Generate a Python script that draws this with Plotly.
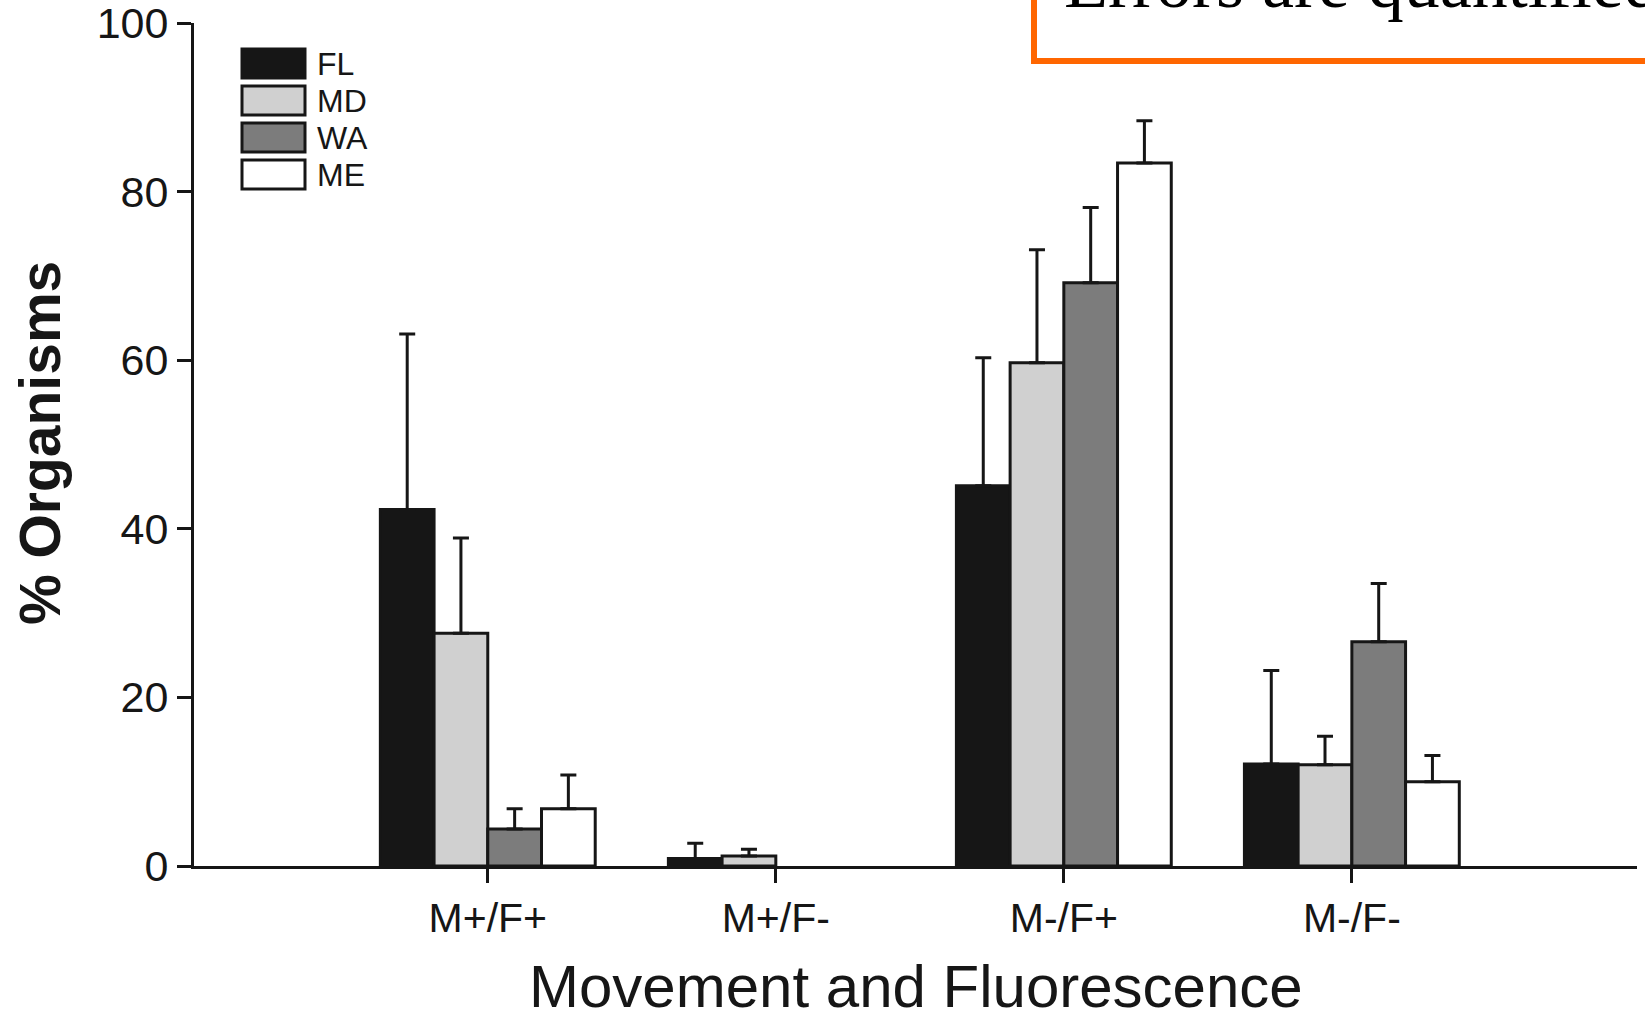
import plotly.graph_objects as go

# ---- data ----
categories = ["M+/F+", "M+/F-", "M-/F+", "M-/F-"]
series_names = ["FL", "MD", "WA", "ME"]
FL = [42.3, 0.9, 45.1, 12.1]
MD = [27.6, 1.2, 59.7, 12.0]
WA = [4.4, 0.0, 69.2, 26.6]
ME = [6.8, 0.0, 83.4, 10.0]
FL_err = [20.8, 1.8, 15.2, 11.1]
MD_err = [11.3, 0.8, 13.4, 3.4]
WA_err = [2.4, 0.0, 8.9, 6.9]
ME_err = [4.0, 0.0, 5.0, 3.1]
y_ticks = [0, 20, 40, 60, 80, 100]

values = [FL, MD, WA, ME]
errors = [FL_err, MD_err, WA_err, ME_err]
fills = ["#161616", "#d0d0d0", "#7c7c7c", "#ffffff"]
INK = "#161616"
FONT = "Liberation Sans, Arial, sans-serif"

W, H = 1645, 1011
ML, MR, MT, MB = 194, 8, 23, 145
PW, PH = W - ML - MR, H - MT - MB


def px_x(px):
    return (px - ML) / PW


def px_y(py):
    return (H - MB - py) / PH


fig = go.Figure()
for name, vals, errs, col in zip(series_names, values, errors, fills):
    # a 0 % bar with no error is not drawn at all in the original
    shown = [v if (v > 0 or e > 0) else None for v, e in zip(vals, errs)]
    fig.add_trace(go.Bar(
        x=categories, y=shown, name=name,
        marker=dict(color=col, line=dict(color=INK, width=3)),
        error_y=dict(type="data", symmetric=False, array=errs,
                     arrayminus=[0] * len(errs), thickness=3, width=8, color=INK),
        showlegend=False,
    ))

shapes = []
annotations = []
# manual legend (large boxes as in the original)
box_tops = [49, 86, 123, 160]
for name, col, top in zip(series_names, fills, box_tops):
    shapes.append(dict(type="rect", xref="paper", yref="paper",
                       x0=px_x(242), x1=px_x(305), y0=px_y(top + 29), y1=px_y(top),
                       fillcolor=col, line=dict(color=INK, width=3), layer="above"))
    annotations.append(dict(text=name, xref="paper", yref="paper",
                            x=px_x(315), y=px_y(top + 15), xanchor="left", yanchor="middle",
                            showarrow=False, font=dict(family=FONT, size=32, color=INK)))

# orange overlay box with cut-off text
shapes.append(dict(type="rect", xref="paper", yref="paper",
                   x0=px_x(1034), x1=1.05, y0=px_y(61), y1=1.2,
                   fillcolor="rgba(0,0,0,0)", line=dict(color="#ff6600", width=6), layer="above"))
annotations.append(dict(text="Errors are quantified", xref="paper", yref="paper",
                        x=px_x(1062), y=px_y(25), xanchor="left", yanchor="bottom",
                        showarrow=False,
                        font=dict(family="Liberation Serif, Times New Roman, serif", size=72, color="#000000")))

# axis titles
annotations.append(dict(text="% Organisms", xref="paper", yref="paper",
                        x=px_x(40), y=px_y(443), xanchor="center", yanchor="middle",
                        textangle=-90, showarrow=False,
                        font=dict(family=FONT, size=57, color=INK, weight="bold")))
annotations.append(dict(text="Movement and Fluorescence", xref="paper", yref="paper",
                        x=0.5, y=px_y(986), xanchor="center", yanchor="middle",
                        showarrow=False, font=dict(family=FONT, size=60, color=INK)))

fig.update_layout(
    width=W, height=H,
    margin=dict(l=ML, r=MR, t=MT, b=MB, pad=0),
    paper_bgcolor="white", plot_bgcolor="white",
    barmode="group", bargap=0.254, bargroupgap=0,
    shapes=shapes, annotations=annotations,
    xaxis=dict(type="category", range=[-1.02, 3.99], showgrid=False, zeroline=False,
               automargin=False, ticklabeloverflow="allow",
               showline=True, linecolor=INK, linewidth=3,
               ticks="outside", ticklen=14, tickwidth=3, tickcolor=INK,
               tickfont=dict(family=FONT, size=41, color=INK), ticklabelstandoff=0),
    yaxis=dict(range=[0, 100], tickvals=y_ticks, showgrid=False, zeroline=False,
               automargin=False, ticklabeloverflow="allow",
               showline=True, linecolor=INK, linewidth=3,
               ticks="outside", ticklen=14, tickwidth=3, tickcolor=INK,
               tickfont=dict(family=FONT, size=43, color=INK), ticklabelstandoff=0),
)

fig.write_html("out.html")
